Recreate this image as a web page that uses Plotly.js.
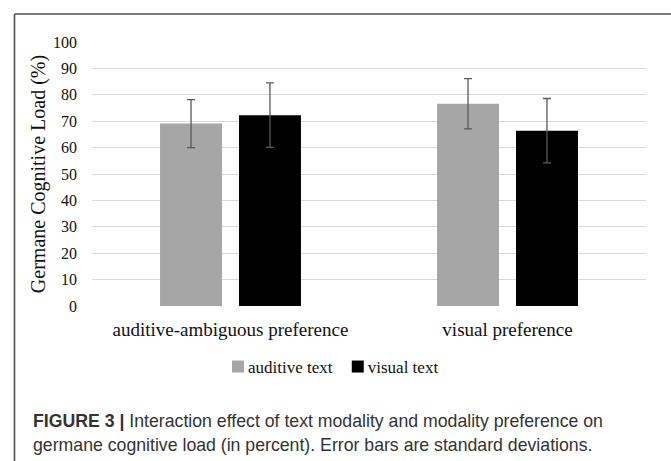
<!DOCTYPE html>
<html>
<head>
<meta charset="utf-8">
<script src="https://cdn.plot.ly/plotly-3.0.1.min.js"></script>
<style>
html,body{margin:0;padding:0;background:#fff;}
#chart{width:671px;height:461px;}
</style>
</head>
<body>
<div id="chart"></div>
<script>
var categories = ["auditive-ambiguous preference", "visual preference"];
var seriesNames = ["auditive text", "visual text"];
var auditiveMeans = [69.1, 76.6];
var auditiveSD = [9.1, 9.5];
var visualMeans = [72.3, 66.4];
var visualSD = [12.2, 12.2];
var yTicks = [0, 10, 20, 30, 40, 50, 60, 70, 80, 90, 100];
var yTitle = "Germane Cognitive Load (%)";
var captionBold = "FIGURE 3 |";
var captionLine1 = " Interaction effect of text modality and modality preference on";
var captionLine2 = "germane cognitive load (in percent). Error bars are standard deviations.";

var serif = "Liberation Serif, Times New Roman, serif";
var sans = "Liberation Sans, Arial, sans-serif";

var errStyle = {type: "data", visible: true, color: "#5a5a5a", thickness: 1.3, width: 4};

var traces = [
  {
    type: "bar", name: seriesNames[0], x: categories, y: auditiveMeans,
    marker: {color: "#a6a6a6"},
    error_y: Object.assign({array: auditiveSD}, errStyle)
  },
  {
    type: "bar", name: seriesNames[1], x: categories, y: visualMeans,
    marker: {color: "#000000"},
    error_y: Object.assign({array: visualSD}, errStyle)
  }
];

var layout = {
  width: 671, height: 461,
  margin: {l: 92, r: 25, t: 42, b: 155, pad: 0},
  paper_bgcolor: "#ffffff", plot_bgcolor: "#ffffff",
  barmode: "group", bargap: 0.43, bargroupgap: 0.215,
  showlegend: true,
  legend: {
    orientation: "h", x: 0.4386, xanchor: "center", y: -0.231, yanchor: "middle",
    font: {family: serif, size: 17, color: "#111"},
    itemwidth: 30, traceorder: "normal", bgcolor: "rgba(0,0,0,0)"
  },
  xaxis: {
    type: "category", showgrid: false, zeroline: false, showline: false,
    ticks: "", ticklabelstandoff: 10,
    tickfont: {family: serif, size: 19, color: "#111"},
    fixedrange: true
  },
  yaxis: {
    range: [0, 100], tickvals: yTicks, ticktext: yTicks.map(String),
    showgrid: true, gridcolor: "#d9d9d9", gridwidth: 1,
    zeroline: false, showline: false, ticks: "", ticklabelstandoff: 14,
    tickfont: {family: serif, size: 16, color: "#111"},
    title: {text: yTitle, font: {family: serif, size: 20, color: "#111"}, standoff: 2},
    fixedrange: true
  },
  shapes: [
    {type: "line", xref: "paper", yref: "paper", x0: -0.1399, x1: -0.1399, y0: 1.106, y1: -0.6,
     line: {color: "#505050", width: 1.6}},
    {type: "line", xref: "paper", yref: "paper", x0: -0.1399, x1: 1.25, y0: 1.106, y1: 1.106,
     line: {color: "#505050", width: 1.6}}
  ],
  annotations: [
    {xref: "paper", yref: "paper", x: -0.1101, y: -0.4356, xanchor: "left", yanchor: "middle",
     showarrow: false, align: "left",
     text: "<b>" + captionBold + "</b>" + captionLine1,
     font: {family: sans, size: 17.7, color: "#333"}},
    {xref: "paper", yref: "paper", x: -0.1101, y: -0.5265, xanchor: "left", yanchor: "middle",
     showarrow: false, align: "left",
     text: captionLine2,
     font: {family: sans, size: 17.7, color: "#333"}}
  ]
};

Plotly.newPlot("chart", traces, layout, {displayModeBar: false, staticPlot: true}).then(function (gd) {
  // tighten the gap between legend swatch and label, as in the reference
  var shift = 10;
  var groups = gd.querySelectorAll(".legend .traces");
  groups.forEach(function (g, i) {
    var t = g.querySelector(".legendtext");
    if (t) { t.setAttribute("x", parseFloat(t.getAttribute("x")) - shift); }
    var tr = g.getAttribute("transform") || "";
    var m = tr.match(/translate\(\s*([-\d.]+)[ ,]+([-\d.]+)\s*\)/);
    if (m) {
      var nx = parseFloat(m[1]) - shift * i + shift * (groups.length) / 2 - 4;
      g.setAttribute("transform", "translate(" + nx + "," + m[2] + ")");
    }
  });
});
</script>
</body>
</html>
